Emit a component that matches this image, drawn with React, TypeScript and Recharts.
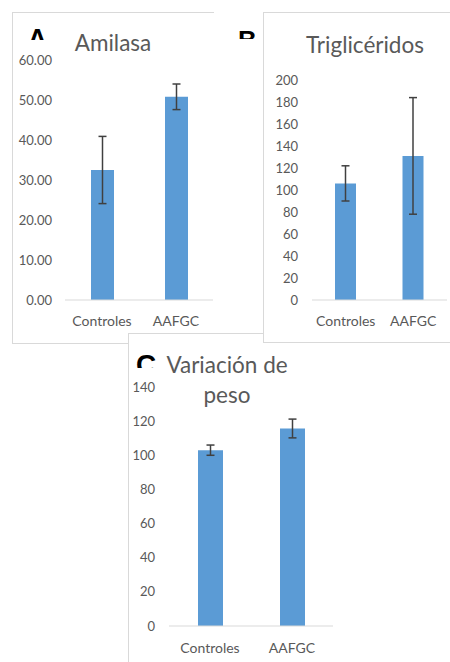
import { BarChart, Bar, XAxis, YAxis, ErrorBar } from 'recharts';

const categories = ['Controles', 'AAFGC'];

const amilasaValues = [32.5, 50.8];
const amilasaErrors = [8.4, 3.2];
const amilasaTicks = [0, 10, 20, 30, 40, 50, 60];

const trigValues = [106, 131];
const trigErrors = [16, 53];
const trigTicks = [0, 20, 40, 60, 80, 100, 120, 140, 160, 180, 200];

const pesoValues = [103, 115.7];
const pesoErrors = [3, 5.5];
const pesoTicks = [0, 20, 40, 60, 80, 100, 120, 140];

const BLUE = '#5B9BD5';
const GRID = '#D9D9D9';
const TEXT = '#595959';
const FONT = 'Lato, "Open Sans", sans-serif';

const rows = (values: number[], errors: number[]) =>
  categories.map((name, i) => ({ name, value: values[i], err: errors[i] }));

interface PanelProps {
  data: Array<{ name: string; value: number; err: number }>;
  ticks: number[];
  width: number;
  height: number;
  top: number;
  yWidth: number;
  xHeight: number;
  yMargin: number;
  xMargin: number;
  barSize: number;
  fmt?: (v: number) => string;
}

function Panel({ data, ticks, width, height, top, yWidth, xHeight, yMargin, xMargin, barSize, fmt }: PanelProps) {
  const yTick = { fill: TEXT, fontSize: 13, fontFamily: FONT };
  const xTick = { fill: TEXT, fontSize: 14, fontFamily: FONT };
  return (
    <BarChart width={width} height={height} data={data} margin={{ top, right: 0, bottom: 0, left: 0 }}>
      <XAxis
        dataKey="name"
        height={xHeight}
        tick={xTick}
        tickLine={false}
        tickSize={0}
        tickMargin={xMargin}
        axisLine={{ stroke: GRID }}
        interval={0}
      />
      <YAxis
        width={yWidth}
        domain={[ticks[0], ticks[ticks.length - 1]]}
        ticks={ticks}
        tick={yTick}
        tickLine={false}
        tickSize={0}
        tickMargin={yMargin}
        axisLine={false}
        tickFormatter={fmt}
        interval={0}
      />
      <Bar dataKey="value" fill={BLUE} barSize={barSize} isAnimationActive={false}>
        <ErrorBar dataKey="err" width={4} stroke="#404040" strokeWidth={1.5} isAnimationActive={false} />
      </Bar>
    </BarChart>
  );
}

const box = (left: number, top: number, width: number, height: number, extra: React.CSSProperties = {}): React.CSSProperties => ({
  position: 'absolute',
  left,
  top,
  width,
  height,
  background: '#fff',
  border: `1px solid ${GRID}`,
  boxSizing: 'border-box',
  ...extra,
});

const title = (left: number, top: number, width: number): React.CSSProperties => ({
  position: 'absolute',
  left,
  top,
  width,
  textAlign: 'center',
  fontFamily: FONT,
  fontSize: 22.5,
  lineHeight: '22px',
  color: TEXT,
});

// panel letters are partly hidden in the original figure
const letter = (left: number, top: number, height: number, size: number): React.CSSProperties => ({
  position: 'absolute',
  left,
  top,
  height,
  overflow: 'hidden',
  fontFamily: '"Liberation Sans", Arial, sans-serif',
  fontWeight: 'bold',
  fontSize: size,
  lineHeight: `${size}px`,
  color: '#000',
});

export default function App() {
  return (
    <div style={{ position: 'absolute', left: 0, top: 0, width: 450, height: 662, overflow: 'hidden', background: '#fff' }}>
      {/* A */}
      <div style={box(12, 12, 202, 332, { borderRight: 'none' })}>
        <Panel
          data={rows(amilasaValues, amilasaErrors)}
          ticks={amilasaTicks}
          width={200}
          height={330}
          top={47}
          yWidth={52}
          xHeight={43}
          yMargin={13}
          xMargin={16}
          barSize={23}
          fmt={(v) => v.toFixed(2)}
        />
        <div style={title(40, 19, 120)}>Amilasa</div>
      </div>
      {/* C */}
      <div style={box(128, 333, 230, 340, { borderRight: 'none', borderBottom: 'none' })}>
        <Panel
          data={rows(pesoValues, pesoErrors)}
          ticks={pesoTicks}
          width={204}
          height={328}
          top={53}
          yWidth={40}
          xHeight={36}
          yMargin={14}
          xMargin={17}
          barSize={25}
        />
        <div style={{ ...title(18, 16, 160), lineHeight: '30px' }}>
          Variación de
          <br />
          peso
        </div>
      </div>
      {/* B */}
      <div style={box(263, 12, 200, 331, { borderRight: 'none' })}>
        <Panel
          data={rows(trigValues, trigErrors)}
          ticks={trigTicks}
          width={183}
          height={329}
          top={67}
          yWidth={48}
          xHeight={42}
          yMargin={14}
          xMargin={16}
          barSize={21}
        />
        <div style={title(26, 21, 150)}>Triglicéridos</div>
      </div>
      <div style={letter(28, 25, 15, 26)}>A</div>
      <div style={letter(238, 27, 12, 26)}>B</div>
      <div style={letter(136, 351, 17, 28)}>C</div>
    </div>
  );
}
